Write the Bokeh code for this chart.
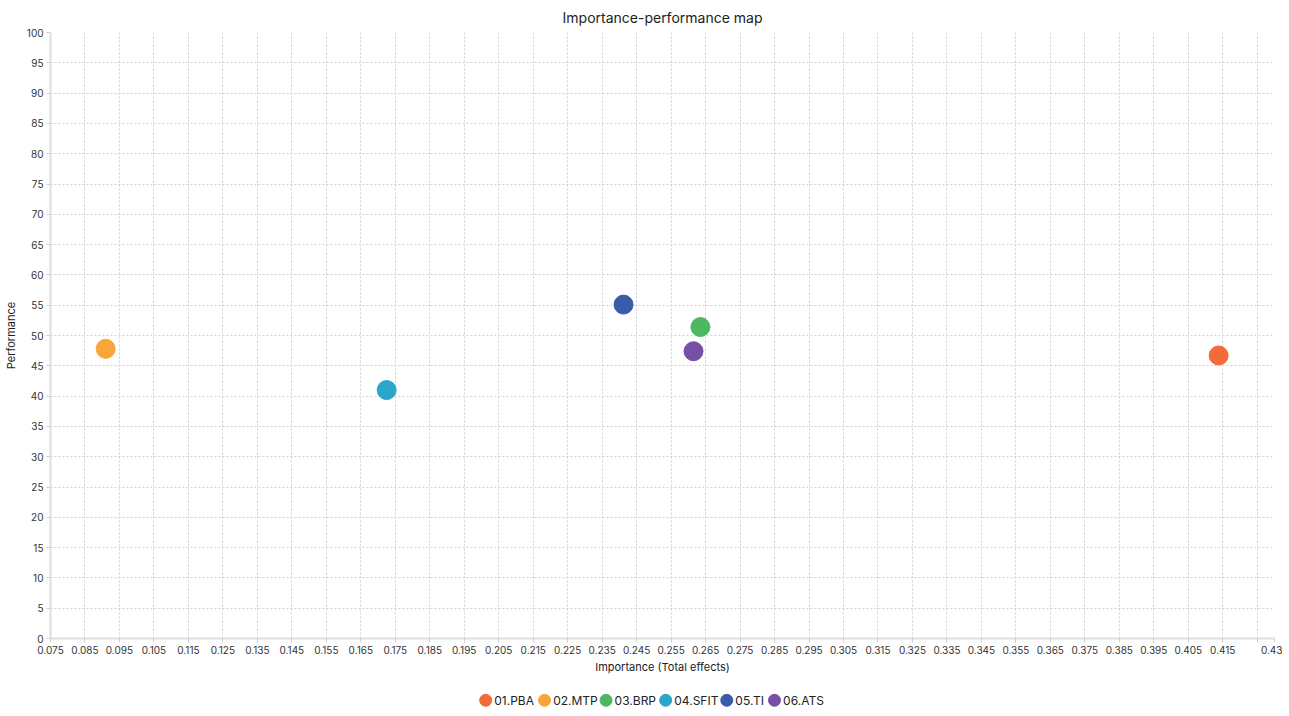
from bokeh.plotting import figure
from bokeh.models import FixedTicker, Range1d, ColumnDataSource
from bokeh.layouts import column
from bokeh.core.properties import value
from bokeh.embed import file_html
from bokeh.resources import INLINE

# ---- data ----
names = ["01.PBA", "02.MTP", "03.BRP", "04.SFIT", "05.TI", "06.ATS"]
importance = [0.4138, 0.0910, 0.2635, 0.1725, 0.2412, 0.2615]
performance = [46.7, 47.8, 51.4, 41.0, 55.1, 47.4]
colors = ["#f26b3a", "#f8a53b", "#4db862", "#2aa7c8", "#3b5ba9", "#7650a6"]

x_tick_values = [0.075, 0.085, 0.095, 0.105, 0.115, 0.125, 0.135, 0.145, 0.155,
                 0.165, 0.175, 0.185, 0.195, 0.205, 0.215, 0.225, 0.235, 0.245,
                 0.255, 0.265, 0.275, 0.285, 0.295, 0.305, 0.315, 0.325, 0.335,
                 0.345, 0.355, 0.365, 0.375, 0.385, 0.395, 0.405, 0.415, 0.425, 0.43]
x_tick_labels = ["0.075", "0.085", "0.095", "0.105", "0.115", "0.125", "0.135",
                 "0.145", "0.155", "0.165", "0.175", "0.185", "0.195", "0.205",
                 "0.215", "0.225", "0.235", "0.245", "0.255", "0.265", "0.275",
                 "0.285", "0.295", "0.305", "0.315", "0.325", "0.335", "0.345",
                 "0.355", "0.365", "0.375", "0.385", "0.395", "0.405", "0.415",
                 "", "0.43"]
y_tick_values = [0, 5, 10, 15, 20, 25, 30, 35, 40, 45, 50, 55, 60, 65, 70, 75,
                 80, 85, 90, 95, 100]

FONT = "Inter"
W = 1273

p = figure(frame_width=1224, frame_height=606, output_backend="svg", toolbar_location=None,
           x_range=Range1d(0.075, 0.43), y_range=Range1d(0, 100),
           title="Importance-performance map",
           min_border_left=41, min_border_right=8, min_border_top=31, min_border_bottom=36)

p.title.align = "center"
p.title.text_font = FONT
p.title.text_font_size = "14px"
p.title.text_font_style = "normal"
p.title.text_color = "#222222"
p.title.offset = 0
p.title.standoff = 13

p.outline_line_color = None
p.background_fill_color = "white"
p.border_fill_color = "white"

p.xaxis.ticker = FixedTicker(ticks=x_tick_values)
p.xaxis.major_label_overrides = {v: l for v, l in zip(x_tick_values, x_tick_labels)}
p.yaxis.ticker = FixedTicker(ticks=y_tick_values)

for ax in (p.xaxis, p.yaxis):
    ax.axis_line_color = "#dcdde3"
    ax.axis_line_width = 2
    ax.major_tick_line_color = "#cfd0d6"
    ax.major_tick_in = 0
    ax.major_tick_out = 4
    ax.minor_tick_line_color = None
    ax.major_label_text_font = FONT
    ax.major_label_text_font_size = "10px"
    ax.major_label_text_color = "#333333"
    ax.axis_label_text_font = FONT
    ax.axis_label_text_font_size = "11px"
    ax.axis_label_text_font_style = "normal"
    ax.axis_label_text_color = "#222222"

p.xaxis.axis_label = "Importance (Total effects)"
p.yaxis.axis_label = "Performance"
p.xaxis.major_label_standoff = 3
p.xaxis.axis_label_standoff = 3
p.yaxis.major_label_standoff = 3
p.yaxis.axis_label_standoff = 6

for g in (p.xgrid, p.ygrid):
    g.grid_line_color = "#cfcfd4"
    g.grid_line_dash = "2 2"
    g.grid_line_width = 1

src = ColumnDataSource(dict(x=importance, y=performance, c=colors, n=names))
p.scatter(x="x", y="y", size=19, fill_color="c", line_color="c", source=src)

# ---- legend strip (horizontal, centred under the chart) ----
# approximate glyph advance widths of Inter at 12px, used only for layout
CHAR_W = {"0": 7.0, "1": 5.5, "2": 7.0, "3": 7.0, "4": 7.0, "5": 7.0, "6": 7.0,
          ".": 3.0, "P": 7.4, "B": 7.6, "A": 8.2, "M": 10.0, "T": 7.0, "R": 7.5,
          "S": 7.3, "F": 6.7, "I": 3.0}
label_w = [sum(CHAR_W.get(ch, 7.0) for ch in n) for n in names]
item_w = [15 + w + 8 for w in label_w]
total = sum(item_w) - 8
start = 628.5 - total / 2
dot_x, txt_x = [], []
cur = start
for w in item_w:
    dot_x.append(cur + 6)
    txt_x.append(cur + 15)
    cur += w

lg = figure(width=W, height=35, output_backend="svg", toolbar_location=None,
            x_range=Range1d(0, W), y_range=Range1d(0, 1),
            x_axis_location=None, y_axis_location=None,
            min_border=0, outline_line_color=None)
lg.grid.visible = False
lsrc = ColumnDataSource(dict(dx=dot_x, tx=txt_x, y=[0.32] * len(names), c=colors, n=names))
lg.scatter(x="dx", y="y", size=12, fill_color="c", line_color="c", source=lsrc)
lg.text(x="tx", y="y", text="n", text_font=value(FONT), text_font_size="12px",
        text_color="#222222", text_baseline="middle", text_align="left", source=lsrc)

open("out.html", "w").write(file_html(column(p, lg, spacing=0), INLINE))
